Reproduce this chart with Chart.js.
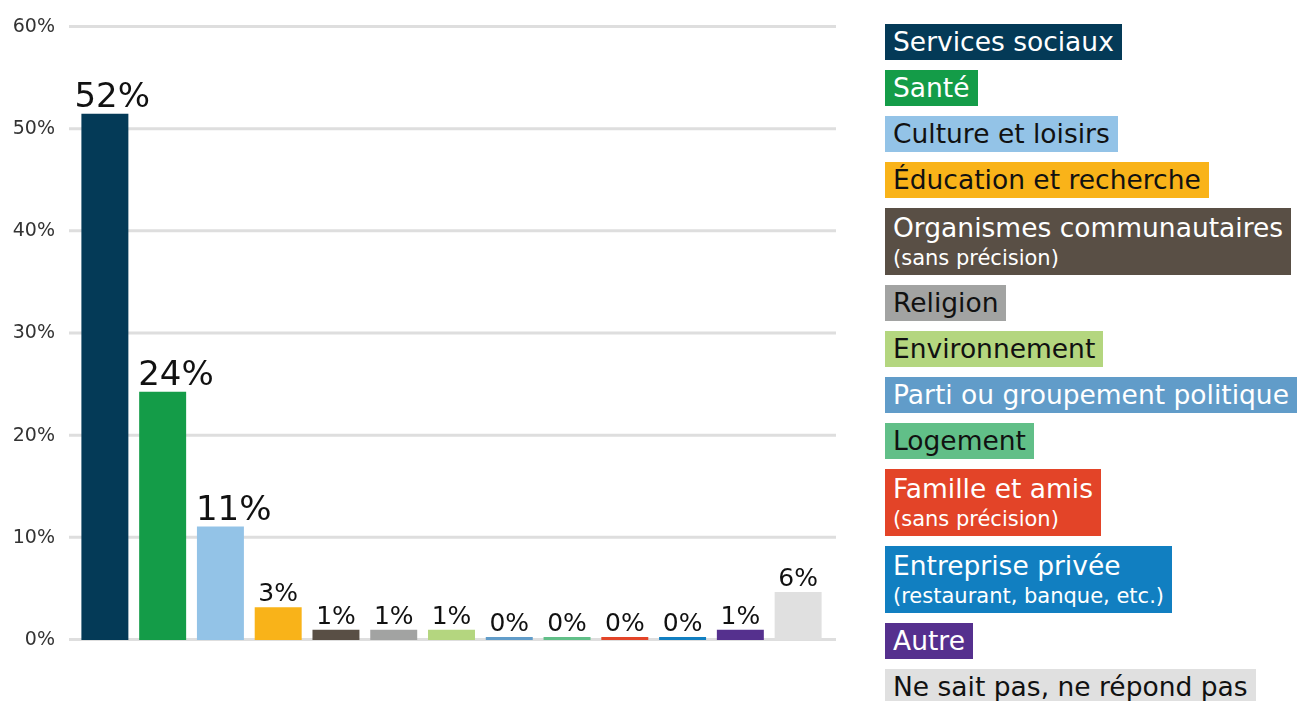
<!DOCTYPE html>
<html><head><meta charset="utf-8">
<script src="https://cdn.jsdelivr.net/npm/chart.js@4.4.1/dist/chart.umd.min.js"></script>
<style>
html,body{margin:0;padding:0;width:1301px;height:701px;overflow:hidden;background:#fff;font-family:"DejaVu Sans",sans-serif}
#wrap{position:absolute;left:0;top:0;width:860px;height:701px}
#legend{position:absolute;left:885px;top:24px}
.item{display:block;width:max-content;padding:0 8px 0 8px;margin-bottom:10px;font-size:26.5px;line-height:36px;height:36px;white-space:nowrap;box-sizing:border-box;overflow:hidden}
.item.two{height:67px;line-height:39px}
.item .sub{display:block;font-size:21px;line-height:22px}
</style>
</head><body>
<div id="wrap"><canvas id="c" width="860" height="701"></canvas></div>
<div id="legend"></div>
<script>
const categories = ["Services sociaux","Santé","Culture et loisirs","Éducation et recherche","Organismes communautaires","Religion","Environnement","Parti ou groupement politique","Logement","Famille et amis","Entreprise privée","Autre","Ne sait pas, ne répond pas"];
const subLabels = ["","","","","(sans précision)","","","","","(sans précision)","(restaurant, banque, etc.)","",""];
const values = [51.5, 24.3, 11.1, 3.2, 1.0, 1.0, 1.0, 0, 0, 0, 0, 1.0, 4.7];
const valueLabels = ["52%","24%","11%","3%","1%","1%","1%","0%","0%","0%","0%","1%","6%"];
const colors = ["#043A57","#149C48","#93C3E7","#F9B319","#594F45","#A2A3A2","#B4D67F","#619CC9","#61BF88","#E34428","#117FC1","#55308E","#E0E0E0"];
const textColors = ["#fff","#fff","#111","#111","#fff","#111","#111","#fff","#111","#fff","#fff","#fff","#111"];
const yTicks = [0,10,20,30,40,50,60];

// legend
const lg = document.getElementById('legend');
categories.forEach((c,i)=>{
  const d = document.createElement('div');
  d.className = 'item' + (subLabels[i] ? ' two' : '');
  d.style.background = colors[i];
  d.style.color = textColors[i];
  d.textContent = c;
  if (subLabels[i]) {
    const s = document.createElement('span');
    s.className = 'sub';
    s.textContent = subLabels[i];
    d.appendChild(s);
  }
  lg.appendChild(d);
});

const FONT = '"DejaVu Sans", sans-serif';
const gridPlugin = {
  id: 'grid',
  beforeDatasetsDraw(chart) {
    const {ctx, chartArea, scales:{y}} = chart;
    ctx.save();
    ctx.strokeStyle = '#dedede';
    ctx.lineWidth = 3;
    yTicks.forEach(t=>{
      const py = y.getPixelForValue(t) - 0.5;
      ctx.beginPath();
      ctx.moveTo(chartArea.left - 7, py);
      ctx.lineTo(chartArea.right + 9, py);
      ctx.stroke();
    });
    ctx.restore();
  }
};
const labelPlugin = {
  id: 'vlabels',
  afterDatasetsDraw(chart) {
    const {ctx} = chart;
    const meta = chart.getDatasetMeta(0);
    ctx.save();
    ctx.fillStyle = '#111';
    ctx.textBaseline = 'alphabetic';
    meta.data.forEach((bar,i)=>{
      const big = values[i] >= 10;
      ctx.font = (big ? '34px ' : '25px ') + FONT;
      if (big) {
        ctx.textAlign = 'left';
        ctx.fillText(valueLabels[i], bar.x - bar.width/2 - (i === 0 ? 7 : 1), bar.y - 7);
      } else {
        ctx.textAlign = 'center';
        ctx.fillText(valueLabels[i], bar.x, bar.y - 6);
      }
    });
    ctx.restore();
  }
};

new Chart(document.getElementById('c'), {
  type: 'bar',
  data: {
    labels: categories,
    datasets: [{
      data: values,
      backgroundColor: colors,
      borderWidth: 0,
      categoryPercentage: 1,
      barPercentage: 0.813,
      minBarLength: 3
    }]
  },
  options: {
    responsive: false,
    animation: false,
    events: [],
    layout: { padding: { top: 27, bottom: 61, left: 0, right: 33 } },
    plugins: { legend: { display: false }, tooltip: { enabled: false } },
    scales: {
      x: { display: false },
      y: {
        min: 0, max: 60,
        afterFit(s) { s.width = 76; s.paddingTop = 0; s.paddingBottom = 0; },
        afterBuildTicks(s) { s.ticks = yTicks.map(v=>({value:v})); },
        grid: { display: false, drawTicks: false },
        border: { display: false },
        ticks: {
          padding: 21,
          color: '#333',
          font: { family: FONT, size: 19 },
          callback: v => v + '%'
        }
      }
    }
  },
  plugins: [gridPlugin, labelPlugin]
});
</script>
</body></html>
